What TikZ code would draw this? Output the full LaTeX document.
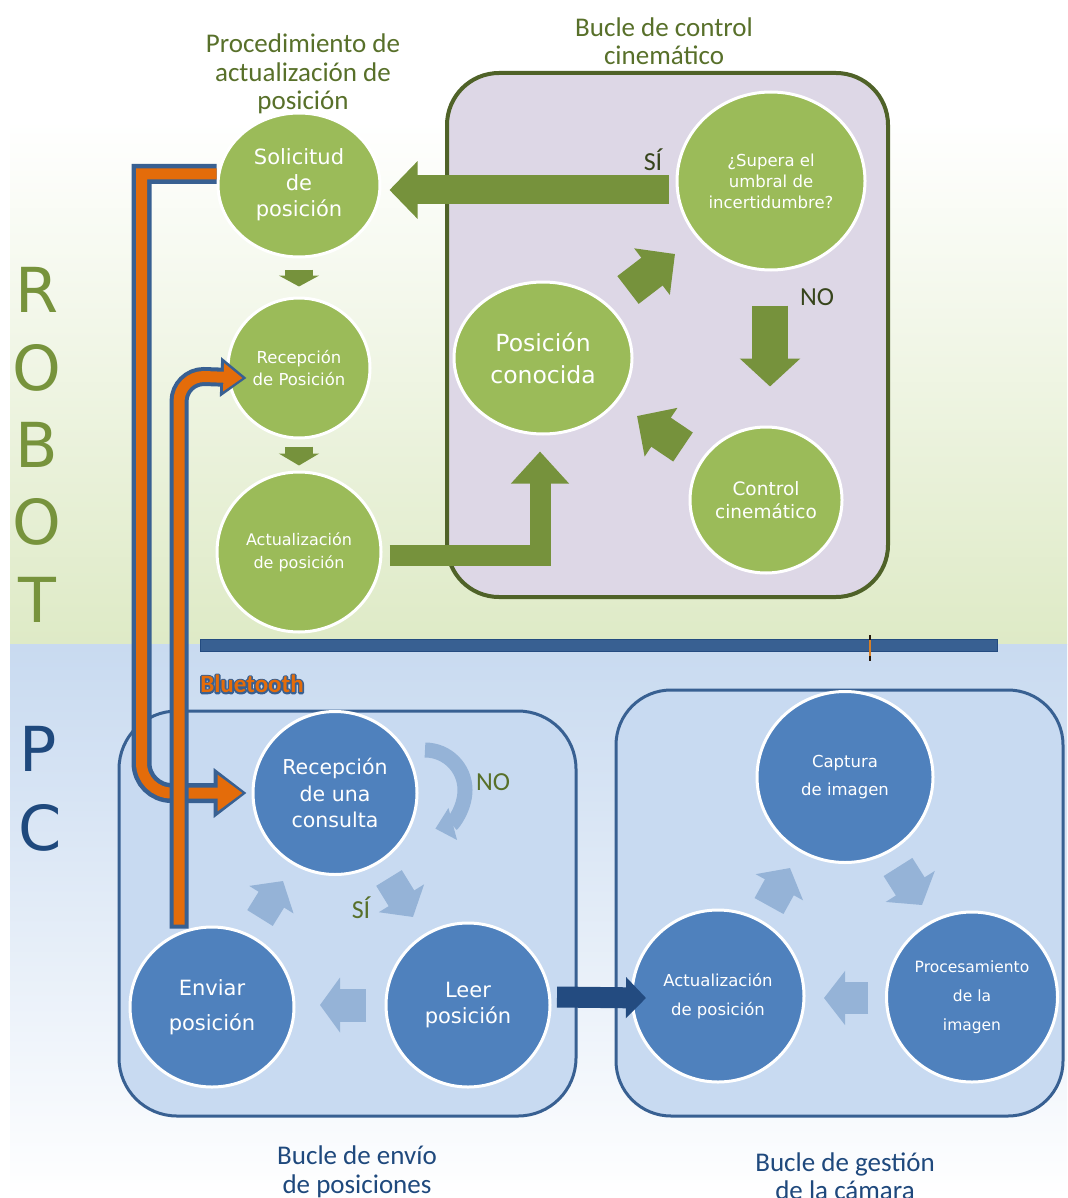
\documentclass[tikz,border=0pt]{standalone}
\usepackage{fontspec}
\setmainfont{DejaVu Sans}
\newfontfamily\titfont{Carlito}
\usetikzlibrary{shapes.geometric,arrows.meta,calc,positioning}

\definecolor{nodegreen}{RGB}{155,187,89}
\definecolor{arrgreen}{RGB}{118,146,60}
\definecolor{robotgreen}{RGB}{119,147,60}
\definecolor{darkolive}{RGB}{79,98,40}
\definecolor{titlegreen}{RGB}{88,112,42}
\definecolor{lilac}{RGB}{221,215,230}
\definecolor{nodeblue}{RGB}{79,129,189}
\definecolor{boxblue}{RGB}{200,218,241}
\definecolor{edgeblue}{RGB}{56,96,146}
\definecolor{palearr}{RGB}{149,179,215}
\definecolor{darkarr}{RGB}{35,75,128}
\definecolor{titleblue}{RGB}{31,73,125}
\definecolor{btorange}{RGB}{228,108,10}
\definecolor{skygreen}{RGB}{222,234,198}
\definecolor{skyblue}{RGB}{200,218,240}

\newcommand{\fsz}[2]{\fontsize{#1}{#2}\selectfont}
% outlined text: stroked copy first, filled copy on top
\newcommand{\outlined}[1]{\rlap{\special{pdf:literal direct 1 Tr 3.2 w 1 J 1 j 0.22 0.376 0.573 RG}#1\special{pdf:literal direct 0 Tr}}#1}

\begin{document}
\begin{tikzpicture}[x=1pt,y=-1pt,
    gnode/.style={ellipse,fill=nodegreen,draw=white,line width=3pt,text=white,align=center,inner sep=0pt},
    bnode/.style={ellipse,fill=nodeblue,draw=white,line width=3pt,text=white,align=center,inner sep=0pt},
    title/.style={align=center,font=\titfont\fsz{27}{28.5}},
    yesno/.style={font=\titfont\fsz{26}{28}},
    bigletter/.style={font=\fsz{62}{62}},
    fat/.style n args={3}{line width=#1,-{Triangle[width=#2,length=#3]}}]
    \useasboundingbox (0,0) rectangle (1067,1198);

    % background: robot side and pc side
    \fill[white] (0,0) rectangle (1067,1198);
    \shade[top color=white,bottom color=skygreen] (10,120) rectangle (1067,644);
    \shade[top color=skyblue,bottom color=white] (10,644) rectangle (1067,1198);

    \foreach \l/\y [count=\i] in {R/290,O/368,B/445,O/522,T/600}
        \node[bigletter,text=robotgreen] (robot\i) at (37,\y) {\l};
    \node[bigletter,text=titleblue] (pcP) at (38,749) {P};
    \node[bigletter,text=titleblue] (pcC) at (40,828) {C};

    % bluetooth link
    \fill[edgeblue] (200,639) rectangle (997,651);
    \draw[darkarr,line width=0.8pt] (200,639) rectangle (997,651);
    \draw[black!80!brown,line width=2.5pt] (870,635) -- (870,661);
    \draw[brown!60!orange,line width=1.5pt] (870,640) -- (870,656);

    % loop boxes
    \draw[darkolive,line width=4pt,fill=lilac,rounded corners=52pt] (447,73) rectangle (888,597);
    \draw[edgeblue,line width=3pt,fill=boxblue,rounded corners=58pt] (119,711) rectangle (576,1116);
    \draw[edgeblue,line width=3pt,fill=boxblue,rounded corners=55pt] (616,690) rectangle (1063,1116);

    \node[title,text=titlegreen] (ttproc) at (303,74) {Procedimiento de\\actualización de\\posición};
    \node[title,text=titlegreen] (ttctrl) at (664,41) {Bucle de control\\cinemático};
    \node[title,text=titleblue] (ttenv) at (357,1172) {Bucle de envío\\de posiciones};
    \node[title,text=titleblue] (ttcam) at (845,1176) {Bucle de gestión\\de la cámara};

    % robot nodes
    \node[gnode,minimum width=162pt,minimum height=144pt,font=\fsz{21}{26}] (sol) at (299,185) {Solicitud\\de\\posición};
    \node[gnode,minimum width=142pt,minimum height=140pt,font=\fsz{16.5}{22}] (rec) at (299,368) {Recepción\\de Posición};
    \node[gnode,minimum width=164pt,minimum height=160pt,font=\fsz{16}{23}] (act) at (299,552) {Actualización\\de posición};
    \node[gnode,minimum width=188pt,minimum height=178pt,font=\fsz{16.5}{21}] (sup) at (771,181) {¿Supera el\\umbral de\\incertidumbre?};
    \node[gnode,minimum width=178pt,minimum height=152pt,font=\fsz{23.5}{32}] (pos) at (543,358) {Posición\\conocida};
    \node[gnode,minimum width=152pt,minimum height=146pt,font=\fsz{18.5}{23}] (ctrl) at (766,500) {Control\\cinemático};

    % pc nodes
    \node[bnode,minimum width=164pt,minimum height=163pt,font=\fsz{20.5}{26.5}] (cons) at (335,793) {Recepción\\de una\\consulta};
    \node[bnode,minimum width=164pt,minimum height=160pt,font=\fsz{21}{35}] (env) at (212,1007) {Enviar\\posición};
    \node[bnode,minimum width=164pt,minimum height=164pt,font=\fsz{21}{26}] (leer) at (468,1005) {Leer\\posición};
    \node[bnode,minimum width=176pt,minimum height=171pt,font=\fsz{16.5}{28}] (cap) at (845,777) {Captura\\de imagen};
    \node[bnode,minimum width=172pt,minimum height=172pt,font=\fsz{16.5}{29}] (actb) at (718,996) {Actualización\\de posición};
    \node[bnode,minimum width=171pt,minimum height=170pt,font=\fsz{15.5}{29}] (proc) at (972,997) {Procesamiento\\de la\\imagen};

    % green arrows
    \draw[arrgreen,fat={29pt}{56pt}{28pt}] ($(sup.west)+(-7,9)$) -- ($(sol.east)+(8,5)$);
    \draw[arrgreen,fat={28pt}{40pt}{11pt}] ($(sol.south)+(0,11)$) -- ($(rec.north)+(0,-10)$);
    \draw[arrgreen,fat={28pt}{40pt}{12pt}] ($(rec.south)+(0,7)$) -- ($(act.north)+(0,-5)$);
    \draw[arrgreen,fat={21pt}{56pt}{32pt},line join=miter] ($(act.east)+(7,3)$) -| ($(pos.south)+(-3,16)$);
    \draw[arrgreen,fat={36pt}{59pt}{28pt}] ($(sup.south)+(-1,34)$) -- ($(ctrl.north)+(4,-39)$);
    \draw[arrgreen,fat={35pt}{57pt}{29pt}] ($(pos)+(85,-68)$) -- ($(sup)+(-96,73)$);
    \draw[arrgreen,fat={35pt}{57pt}{29pt}] ($(ctrl)+(-83,-53)$) -- ($(pos)+(94,58)$);

    \node[yesno,text=darkolive!70!black] (si1) at (653,160) {SÍ};
    \node[yesno,text=darkolive!70!black] (no1) at (817,297) {NO};

    % blue arrows
    \draw[palearr,fat={30pt}{51pt}{22pt}] ($(env)+(48,-89)$) -- ($(cons)+(-52,88)$);
    \draw[palearr,fat={30pt}{52pt}{22pt}] ($(cons)+(54,85)$) -- ($(leer)+(-55,-88)$);
    \draw[palearr,fat={33pt}{54pt}{20pt}] ($(leer)+(-102,0)$) -- ($(env)+(108,-2)$);
    \draw[palearr,line width=15pt,-{Triangle[width=32pt,length=18pt]}] ($(cons)+(90,-43)$) arc[start angle=-90,end angle=75,radius=40];
    \draw[palearr,fat={33pt}{53pt}{22pt}] ($(actb)+(51,-90)$) -- ($(cap)+(-55,91)$);
    \draw[palearr,fat={34pt}{57pt}{22pt}] ($(cap)+(53,90)$) -- ($(proc)+(-50,-92)$);
    \draw[palearr,fat={32pt}{53pt}{21pt}] ($(proc)+(-104,1)$) -- ($(actb)+(106,2)$);
    \draw[darkarr,fat={21pt}{40pt}{20pt}] ($(leer)+(89,-8)$) -- ($(actb)+(-72,2)$);

    \node[yesno,text=titlegreen] (no2) at (493,782) {NO};
    \node[yesno,text=titlegreen] (si2) at (361,908) {SÍ};

    % bluetooth request / answer
    \draw[edgeblue,line width=20pt,line join=miter,-{Triangle[width=48pt,length=33pt]}]
        ($(sol.west)+(0,-11)$) -- ++(-75,0) -- ++(0,589) arc[start angle=180,end angle=90,radius=30] -- ($(cons.west)+(-5,0)$);
    \draw[btorange,line width=11pt,line join=miter,-{Triangle[width=35pt,length=25pt]}]
        ($(sol.west)+(0,-11)$) -- ++(-75,0) -- ++(0,589) arc[start angle=180,end angle=90,radius=30] -- ($(cons.west)+(-9,0)$);
    \draw[edgeblue,line width=19pt,line join=miter,-{Triangle[width=38pt,length=26pt]}]
        ($(env.north)+(-33,3)$) -- ++(0,-527) arc[start angle=180,end angle=270,radius=25] -- ($(rec.west)+(20,10)$);
    \draw[btorange,line width=11pt,line join=miter,-{Triangle[width=27pt,length=19pt]}]
        ($(env.north)+(-33,-1)$) -- ++(0,-523) arc[start angle=180,end angle=270,radius=25] -- ($(rec.west)+(16,10)$);

    \node[font=\titfont\bfseries\fsz{25}{25},text=btorange] (bt) at (252,684) {\outlined{Bluetooth}};
\end{tikzpicture}
\end{document}
